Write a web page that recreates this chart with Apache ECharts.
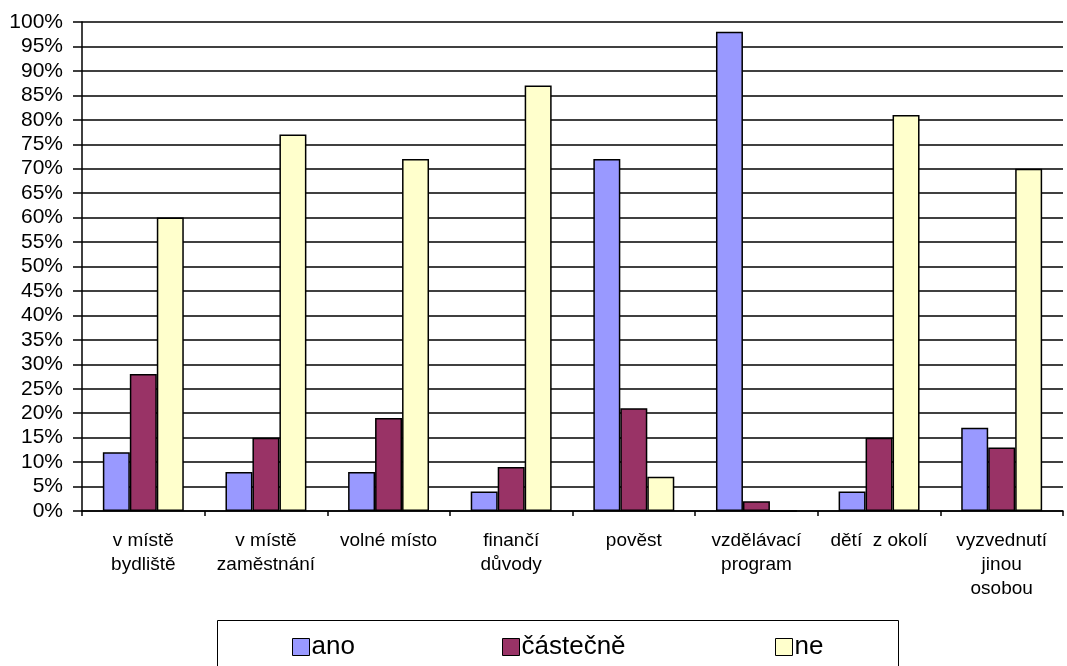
<!DOCTYPE html>
<html>
<head>
<meta charset="utf-8">
<script src="https://cdn.jsdelivr.net/npm/echarts@6/dist/echarts.min.js"></script>
<style>
  html, body { margin: 0; padding: 0; background: #fff; }
  #chart { width: 1067px; height: 666px; }
</style>
</head>
<body>
<div id="chart"></div>
<script>
// Categories (reasons), with line breaks as shown under the axis
const categories = [
  'v místě\nbydliště',
  'v místě\nzaměstnání',
  'volné místo',
  'finančí\ndůvody',
  'pověst',
  'vzdělávací\nprogram',
  'dětí  z okolí',
  'vyzvednutí\njinou\nosobou'
];

// Shares of answers in percent
const ano      = [12, 8, 8, 4, 72, 98, 4, 17];
const castecne = [28, 15, 19, 9, 21, 2, 15, 13];
const ne       = [60, 77, 72, 87, 7, 0, 81, 70];

const seriesNames = ['ano', 'částečně', 'ne'];
const seriesColors = ['#9999FF', '#993366', '#FFFFCC'];

const FONT = "'Liberation Sans', Arial, sans-serif";

const chart = echarts.init(document.getElementById('chart'), null, { renderer: 'canvas' });

const values = [ano, castecne, ne];
const series = seriesNames.map((name, i) => ({
  name: name,
  type: 'bar',
  data: values[i],
  barGap: 0,
  barCategoryGap: '34%',
  itemStyle: { color: seriesColors[i], borderColor: '#000', borderWidth: 1.5 },
  emphasis: { disabled: true }
}));

// One legend per entry so the entries can sit spread across the framed box
const legendLefts = [292, 502, 775];
const legends = seriesNames.map((name, i) => ({
  data: [name],
  left: legendLefts[i],
  top: 634,
  icon: 'rect',
  itemWidth: 17,
  itemHeight: 17,
  itemGap: 0,
  padding: 0,
  selectedMode: false,
  itemStyle: { borderColor: '#000', borderWidth: 1 },
  textStyle: { fontFamily: FONT, fontSize: 26, color: '#000', padding: [0, 0, 0, -3] }
}));

chart.setOption({
  animation: false,
  backgroundColor: '#fff',
  grid: { left: 82, right: 4, top: 22, bottom: 155, containLabel: false },
  legend: legends,
  graphic: [{
    type: 'rect',
    shape: { x: 217.5, y: 620.5, width: 681, height: 60 },
    style: { fill: 'none', stroke: '#000', lineWidth: 1 },
    silent: true
  }],
  xAxis: {
    type: 'category',
    data: categories,
    axisLine: { lineStyle: { color: '#000', width: 1.5 } },
    axisTick: { show: true, length: 5, lineStyle: { color: '#000', width: 1.5 } },
    axisLabel: {
      interval: 0,
      margin: 18,
      color: '#000',
      fontFamily: FONT,
      fontSize: 19,
      lineHeight: 24
    }
  },
  yAxis: {
    type: 'value',
    min: 0,
    max: 100,
    interval: 5,
    axisLine: { show: true, lineStyle: { color: '#000', width: 1.5 } },
    axisTick: { show: true, length: 9, lineStyle: { color: '#000', width: 1.5 } },
    splitLine: { show: true, lineStyle: { color: '#000', width: 1.5 } },
    axisLabel: {
      formatter: '{value}%',
      margin: 19,
      color: '#000',
      fontFamily: FONT,
      fontSize: 21
    }
  },
  series: series
});
</script>
</body>
</html>
